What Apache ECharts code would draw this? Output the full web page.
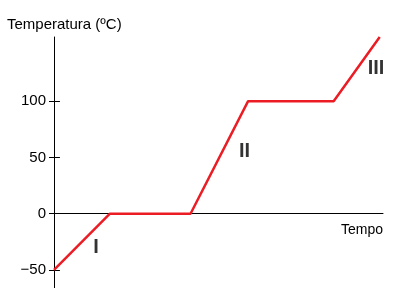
<!DOCTYPE html>
<html>
<head>
<meta charset="utf-8">
<script src="https://cdn.jsdelivr.net/npm/echarts@6/dist/echarts.min.js"></script>
<style>html,body{margin:0;padding:0;background:#fff}#c{width:397px;height:288px}</style>
</head>
<body>
<div id="c"></div>
<script>
var timeValues = [0, 1.7, 4.15, 5.9, 8.5, 9.9];
var tempValues = [-50, 0, 0, 100, 100, 157];
var yTicks = [-50, 0, 50, 100];
var phaseNames = ['I', 'II', 'III'];
var phaseX = [1.28, 5.79, 9.79];
var phaseY = [-30.4, 55.4, 129];
var yTitle = 'Temperatura (ºC)';
var xTitle = 'Tempo';

var FONT = '"Liberation Sans", Arial, sans-serif';
var X_MIN = 0, X_MAX = 10;
var INNER_TICK = 0.18; // inner half of the crossing tick, in x-axis units (style)
var chart = echarts.init(document.getElementById('c'));
var lineData = timeValues.map(function (t, i) { return [t, tempValues[i]]; });
var phaseData = phaseNames.map(function (n, i) { return { name: n, value: [phaseX[i], phaseY[i]] }; });
var innerTicks = yTicks.map(function (v) { return [{ coord: [X_MIN, v] }, { coord: [X_MIN + INNER_TICK, v] }]; });

chart.setOption({
  animation: false,
  textStyle: { fontFamily: FONT },
  title: {
    text: yTitle, left: 7, top: 17, padding: 0,
    textStyle: { fontSize: 15, fontWeight: 'normal', color: '#000', fontFamily: FONT }
  },
  grid: { left: 54, right: 14, top: 37, bottom: 0, containLabel: false },
  xAxis: {
    type: 'value', min: X_MIN, max: X_MAX,
    axisLine: { show: true, onZero: true, lineStyle: { color: '#000', width: 1 } },
    axisTick: { show: false }, axisLabel: { show: false }, splitLine: { show: false },
    name: xTitle, nameLocation: 'end', nameGap: 0,
    nameTextStyle: { fontSize: 14, color: '#000', align: 'right', verticalAlign: 'top', padding: [9, 0, 0, 0], fontFamily: FONT }
  },
  yAxis: {
    type: 'value', min: -66, max: 157,
    axisLine: { show: true, onZero: false, lineStyle: { color: '#000', width: 1 } },
    axisTick: { show: true, length: 5, customValues: yTicks, lineStyle: { color: '#000' } },
    axisLabel: { show: true, customValues: yTicks, margin: 8, fontSize: 15, color: '#000', fontFamily: FONT,
      formatter: function (v) { return v < 0 ? '\u2212' + Math.abs(v) : String(v); } },
    splitLine: { show: false }
  },
  series: [{
    type: 'line', data: lineData, symbol: 'none', clip: false, z: 3,
    lineStyle: { color: '#ec1c24', width: 2.5 },
    markLine: {
      silent: true, symbol: ['none', 'none'], animation: false, z: 1,
      label: { show: false },
      lineStyle: { color: '#000', width: 1, type: 'solid' },
      emphasis: { disabled: true },
      data: innerTicks
    }
  }, {
    type: 'scatter', data: phaseData, symbolSize: 0,
    label: { show: true, position: 'inside', formatter: '{b}', fontSize: 20, fontWeight: 'bold', color: '#000', fontFamily: FONT }
  }]
});
</script>
</body>
</html>
